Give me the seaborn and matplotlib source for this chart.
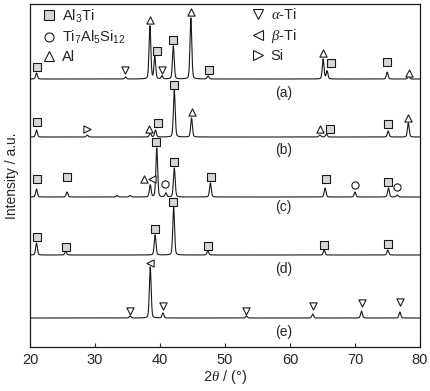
import numpy as np
import pandas as pd
import matplotlib
matplotlib.use('Agg')
import matplotlib.pyplot as plt
import seaborn as sns
from matplotlib.lines import Line2D

# --- data (peak positions in 2theta, heights in arbitrary units) ---
traces = ['(a)', '(b)', '(c)', '(d)', '(e)']
offsets = [268, 210, 150, 92, 29]

pos_a = [21.0, 34.7, 38.45, 39.2, 40.3, 42.05, 44.75, 47.4, 65.1, 65.7, 74.95, 78.25]
hgt_a = [6, 2, 53, 22, 3, 33, 61, 3, 20, 8, 7, 3]
pos_b = [21.0, 28.8, 38.5, 39.3, 42.2, 44.85, 64.6, 65.6, 75.1, 78.2]
hgt_b = [7, 2, 4, 7, 47, 19, 2, 3, 6, 14]
pos_c = [21.0, 25.7, 33.4, 35.4, 38.5, 39.5, 40.9, 42.2, 47.75, 65.4, 70.0, 75.15, 76.5]
hgt_c = [8, 5, 1.5, 1.5, 12, 49, 4, 29, 14, 9, 5, 9, 2]
pos_d = [21.0, 25.5, 39.25, 42.1, 47.35, 65.25, 75.05]
hgt_d = [12, 4, 20, 48, 4, 5, 5]
pos_e = [35.4, 38.5, 40.45, 53.3, 63.5, 71.0, 76.9]
hgt_e = [2, 51, 5, 2, 4, 7, 6]

# phase markers: (symbol, 2theta, height above baseline)
marks_a = [('s', 21.0, 12), ('v', 34.6, 9), ('^', 38.45, 59), ('s', 39.5, 28), ('v', 40.3, 9),
           ('s', 42.0, 39), ('^', 44.75, 67), ('s', 47.5, 9), ('^', 65.1, 26), ('s', 66.3, 16),
           ('s', 74.9, 17), ('^', 78.3, 6)]
marks_b = [('s', 21.0, 15), ('>', 28.8, 8), ('^', 38.3, 8), ('s', 39.7, 14), ('s', 42.2, 52),
           ('^', 44.9, 25), ('^', 64.6, 8), ('s', 66.2, 8), ('s', 75.1, 13), ('^', 78.2, 19)]
marks_c = [('s', 21.0, 18), ('s', 25.7, 20), ('^', 37.5, 18), ('<', 38.7, 18), ('s', 39.45, 55),
           ('o', 40.8, 13), ('s', 42.2, 35), ('s', 47.8, 20), ('s', 65.5, 18), ('o', 70.0, 12),
           ('s', 75.1, 15), ('o', 76.5, 10)]
marks_d = [('s', 21.0, 18), ('s', 25.5, 8), ('s', 39.2, 26), ('s', 42.0, 53), ('s', 47.4, 9),
           ('s', 65.3, 10), ('s', 75.05, 11)]
marks_e = [('v', 35.4, 7), ('<', 38.4, 55), ('v', 40.4, 12), ('v', 53.3, 7), ('v', 63.5, 12),
           ('v', 71.0, 15), ('v', 76.85, 16)]

phases = ['s', 'o', '^', 'v', '<', '>']
phase_names = [r'Al$_3$Ti', r'Ti$_7$Al$_5$Si$_{12}$', 'Al', r'$\alpha$-Ti', r'$\beta$-Ti', 'Si']

peaks = [(pos_a, hgt_a), (pos_b, hgt_b), (pos_c, hgt_c), (pos_d, hgt_d), (pos_e, hgt_e)]
marks = [marks_a, marks_b, marks_c, marks_d, marks_e]
label_drop = [14, 13, 10, 14, 14]


def profile(x, pos, hgt, w=0.14):
    y = np.zeros_like(x)
    for p, h in zip(pos, hgt):
        g = np.exp(-0.5 * ((x - p) / w) ** 2)
        lor = w ** 2 / ((x - p) ** 2 + w ** 2)
        y += h * (0.7 * g + 0.3 * lor)
    return y


sns.set_style('ticks')
plt.rcParams['font.family'] = ['Liberation Sans', 'DejaVu Sans']
plt.rcParams['mathtext.fontset'] = 'custom'
plt.rcParams['mathtext.rm'] = 'Liberation Sans'
plt.rcParams['mathtext.it'] = 'Liberation Serif:italic'

x = np.linspace(20, 80, 2401)
frames = []
for name, off, (pos, hgt) in zip(traces, offsets, peaks):
    frames.append(pd.DataFrame({'two_theta': x, 'intensity': off + profile(x, pos, hgt), 'trace': name}))
df = pd.concat(frames, ignore_index=True)

fig = plt.figure(figsize=(4.31, 3.91), dpi=100)
ax = fig.add_axes([30 / 431, 1 - 347 / 391, 390 / 431, 343 / 391])
sns.lineplot(data=df, x='two_theta', y='intensity', hue='trace', palette=['#1a1a1a'] * 5,
             legend=False, estimator=None, sort=False, lw=0.8, ax=ax)

face = {'s': '#d6d6d6'}
for off, mk in zip(offsets, marks):
    for sym, xx, yy in mk:
        ax.scatter(xx, off + yy, marker=sym, s=27, facecolor=face.get(sym, 'white'),
                   edgecolor='#1a1a1a', linewidth=0.8, zorder=3)

for name, off, drop in zip(traces, offsets, label_drop):
    ax.text(59, off - drop, name, ha='center', va='center', fontsize=10)

def handle(sym):
    return Line2D([], [], ls='none', marker=sym, markersize=6.5, markerfacecolor=face.get(sym, 'white'),
                  markeredgecolor='#1a1a1a', markeredgewidth=0.8)

leg1 = ax.legend([handle(s) for s in phases[:3]], phase_names[:3], loc='upper left',
                 bbox_to_anchor=(0.03, 0.99), frameon=False, fontsize=10.5, handlelength=1,
                 handletextpad=0.4, labelspacing=0.3, borderpad=0, borderaxespad=0)
ax.add_artist(leg1)
ax.legend([handle(s) for s in phases[3:]], phase_names[3:], loc='upper left',
          bbox_to_anchor=(0.565, 0.99), frameon=False, fontsize=10.5, handlelength=1,
          handletextpad=0.4, labelspacing=0.3, borderpad=0, borderaxespad=0)

ax.set_xlim(20, 80)
ax.set_ylim(0, 343)
ax.set_xticks([20, 30, 40, 50, 60, 70, 80])
ax.set_yticks([])
ax.tick_params(axis='x', direction='in', length=3, labelsize=10.5, pad=4)
ax.set_xlabel(r'2$\theta$ / (°)', fontsize=10.5, labelpad=1)
ax.set_ylabel('Intensity / a.u.', fontsize=10, labelpad=8)
for sp in ax.spines.values():
    sp.set_visible(True)
    sp.set_linewidth(0.9)
    sp.set_color('#1a1a1a')

fig.savefig('out.png', dpi=100)
